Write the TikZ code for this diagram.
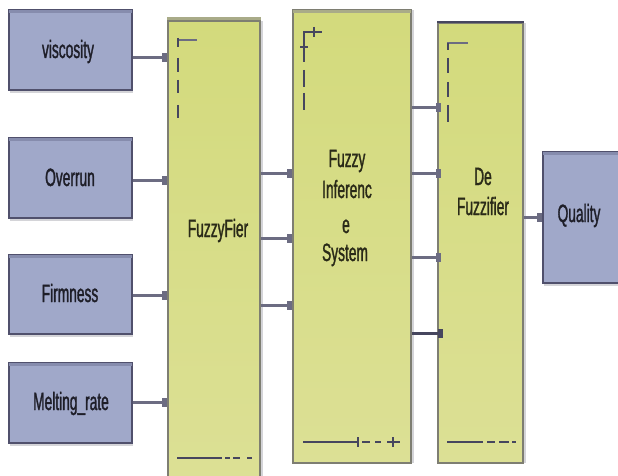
\documentclass[tikz,border=0pt]{standalone}
\usepackage{fontspec}
\setmainfont{Liberation Sans}
\newfontfamily\labfont[FakeStretch=0.55,FakeBold=1.2]{Liberation Sans}
\usetikzlibrary{arrows.meta,shadows}
\definecolor{bluefill}{HTML}{A0A8C9}
\definecolor{blueedge}{HTML}{50506C}
\definecolor{bluetop}{HTML}{868CAD}
\definecolor{yeltop}{HTML}{D3DA7C}
\definecolor{yelbot}{HTML}{DCE095}
\definecolor{yeledge}{HTML}{7E7E72}
\definecolor{yelband}{HTML}{A9AB88}
\definecolor{arrcol}{HTML}{6C6C82}
\definecolor{darkarr}{HTML}{46465E}
\definecolor{shadowcol}{HTML}{D4D4D8}
\definecolor{txt}{HTML}{1E1E28}
\definecolor{ytxt}{HTML}{2A2A18}
\begin{document}
\begin{tikzpicture}[x=1pt,y=-1pt,
  inbox/.style={draw=blueedge, line width=1.5pt, fill=bluefill, inner sep=0pt,
    minimum width=123pt, minimum height=80pt,
    general shadow={shadow xshift=1pt, shadow yshift=-3pt, fill=shadowcol}},
  ybox/.style={draw=yeledge, line width=1.5pt, top color=yeltop, bottom color=yelbot, inner sep=0pt,
    general shadow={shadow xshift=3pt, shadow yshift=0pt, fill=shadowcol}},
  lab/.style={font=\labfont\fontsize{25}{30}\selectfont, text=txt, inner sep=0pt, anchor=base},
  ylab/.style={lab, text=ytxt},
  arr/.style={draw=arrcol, line width=3pt, -{Rectangle[length=5pt,width=9pt]}},
  darr/.style={arr, draw=darkarr},
  mk/.style={draw=darkarr, line width=2.5pt},
  lmk/.style={draw=arrcol, line width=2.5pt},
  topband/.style={line width=3pt}
]
\useasboundingbox (0,0) rectangle (618,476);

% input boxes
\node[inbox] (visc) at (70.5,50) {};
\node[inbox] (over) at (70.5,178) {};
\node[inbox, minimum height=79pt] (firm) at (70.5,294.5) {};
\node[inbox] (melt) at (70.5,403) {};
\foreach \n in {visc,over,firm,melt}
  \draw[bluetop, topband] ([xshift=1pt,yshift=-2.5pt]\n.north west) -- ([xshift=-1pt,yshift=-2.5pt]\n.north east);

% processing boxes
\node[ybox, minimum width=92pt, minimum height=459pt] (fuzz) at (214,250.5) {};
\node[ybox, minimum width=118pt, minimum height=453pt] (fis) at (352,236.5) {};
\node[ybox, minimum width=85pt, minimum height=440pt] (defz) at (480.5,243) {};
\draw[yelband, line width=3pt] ([yshift=2pt]fuzz.north west) -- ([yshift=2pt]fuzz.north east);
\draw[yelband, line width=2.5pt] ([xshift=1pt,yshift=-2.5pt]fis.north west) -- ([xshift=-1pt,yshift=-2.5pt]fis.north east);
\draw[darkarr, line width=2.5pt] (defz.north west) -- (defz.north east);

% output box
\node[inbox, minimum width=79pt, minimum height=131pt] (qual) at (582.5,217.5) {};
\draw[bluetop, topband] ([xshift=1pt,yshift=-2.5pt]qual.north west) -- ([xshift=-1pt,yshift=-2.5pt]qual.north east);

% connectors
\draw[arr] (visc.east |- 0,58) -- (fuzz.west |- 0,58);
\draw[arr] (over.east |- 0,180) -- (fuzz.west |- 0,180);
\draw[arr] (firm.east |- 0,295) -- (fuzz.west |- 0,295);
\draw[arr] (melt.east |- 0,402) -- (fuzz.west |- 0,402);

\draw[arr] (fuzz.east |- 0,173) -- (fis.west |- 0,173);
\draw[arr] (fuzz.east |- 0,238) -- (fis.west |- 0,238);
\draw[arr] (fuzz.east |- 0,305) -- (fis.west |- 0,305);

\draw[arr] (fis.east |- 0,108) -- ([xshift=4pt]defz.west |- 0,108);
\draw[arr] (fis.east |- 0,173) -- ([xshift=4pt]defz.west |- 0,173);
\draw[arr] (fis.east |- 0,257) -- ([xshift=4pt]defz.west |- 0,257);
\draw[darr] (fis.east |- 0,333) -- ([xshift=6pt]defz.west |- 0,333);

\draw[arr] (defz.east |- 0,217) -- (qual.west |- 0,217);

% inner marks: fuzzifier
\draw[lmk] (177,40) -- (197,40);
\draw[mk] (178,38) -- (178,47) (178,58) -- (178,72) (178,80) -- (178,93) (178,105) -- (178,118);
\draw[mk] (177,458) -- (222,458) (225,458) -- (230,458) (233,458) -- (240,458) (247,458) -- (252,458);

% inner marks: inference system
\draw[mk] (303,32) -- (322,32);
\draw[mk, line width=2pt] (314,27) -- (314,37);
\draw[mk] (304,32) -- (304,62) (304,70) -- (304,87) (304,93) -- (304,110);
\draw[mk, line width=2pt] (300,47) -- (308,47);
\draw[mk] (303,442) -- (358,442) (362,442) -- (370,442) (375,442) -- (381,442) (387,442) -- (400,442);
\draw[mk, line width=2pt] (358,437) -- (358,447) (393,437) -- (393,447);

% inner marks: defuzzifier
\draw[lmk] (447,43) -- (468,43);
\draw[mk] (448,43) -- (448,50) (448,58) -- (448,73) (448,82) -- (448,97) (448,105) -- (448,122);
\draw[mk] (447,442) -- (483,442) (487,442) -- (495,442) (499,442) -- (509,442) (512,442) -- (516,442);

% labels
\node[lab] (lvisc) at (68,58) {viscosity};
\node[lab] (lover) at (70,186) {Overrun};
\node[lab] (lfirm) at (70,302) {Firmness};
\node[lab] (lmelt) at (71,410) {Melting\_rate};
\node[ylab] (lfuzz) at (218,237) {FuzzyFier};
\node[ylab] (lfis1) at (347,167) {Fuzzy};
\node[ylab] (lfis2) at (347,198) {Inferenc};
\node[ylab] (lfis3) at (346,233) {e};
\node[ylab] (lfis4) at (345,261) {System};
\node[ylab] (ldef1) at (483,185) {De};
\node[ylab] (ldef2) at (483,215) {Fuzzifier};
\node[lab] (lqual) at (579,222) {Quality};
\end{tikzpicture}
\end{document}
